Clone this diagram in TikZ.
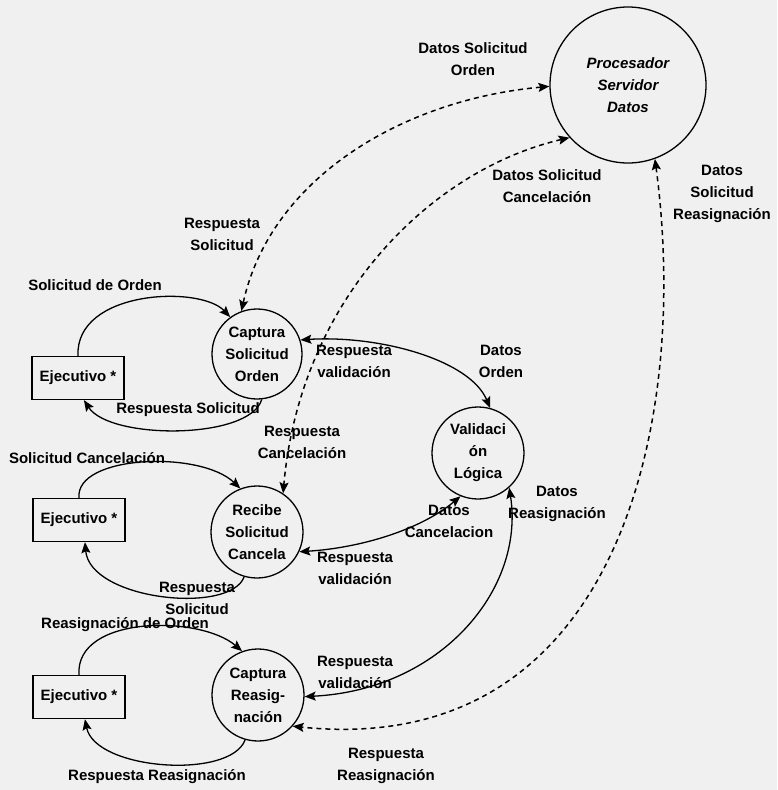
\documentclass[tikz,border=0pt]{standalone}
\usepackage{fontspec}
\setmainfont{Liberation Sans}
\usetikzlibrary{arrows.meta}
\begin{document}
\begin{tikzpicture}[x=1pt,y=-1pt,
  txt/.style={font=\fontsize{15}{22}\selectfont\bfseries, align=center, inner sep=0pt},
  bubble/.style={txt, draw, circle, line width=1.3pt, minimum size=#1},
  entity/.style={txt, draw, rectangle, line width=1.3pt, minimum width=92pt, minimum height=43pt},
  tip/.tip={Stealth[length=11pt,width=9pt,inset=2pt]},
  oneway/.style={line width=1.3pt, -tip},
  twoway/.style={line width=1.3pt, tip-tip},
  dashway/.style={line width=1.5pt, dash pattern=on 5pt off 4pt, tip-tip}
]
\fill[black!6] (0,0) rectangle (777,790);
\useasboundingbox (0,0) rectangle (777,790);

% processes and external entities
\node[bubble=156pt, font=\fontsize{15}{22}\selectfont\bfseries\itshape] (srv) at (628,85) {Procesador\\Servidor\\Datos};
\node[bubble=90pt] (cso) at (257,354) {Captura\\Solicitud\\Orden};
\node[bubble=92pt] (rsc) at (257,532) {Recibe\\Solicitud\\Cancela};
\node[bubble=92pt] (cr) at (258,695) {Captura\\Reasig-\\nación};
\node[bubble=92pt] (val) at (478,453) {Validaci\\ón\\Lógica};
\node[entity] (e1) at (78,378) {Ejecutivo *};
\node[entity] (e2) at (79,520) {Ejecutivo *};
\node[entity] (e3) at (79,697) {Ejecutivo *};

% data server links
\draw[dashway] (srv.181) .. controls (400,100) and (270,180) .. (cso.110);
\draw[dashway] (srv.222) .. controls (430,170) and (300,300) .. (rsc.56);
\draw[dashway] (srv.290) .. controls (690,420) and (620,760) .. (cr.318);

% validation links
\draw[twoway] (cso.18) .. controls (380,335) and (470,360) .. (val.75);
\draw[twoway] (rsc.335) .. controls (360,548) and (420,530) .. (val.248);
\draw[twoway] (cr.358) .. controls (440,690) and (525,590) .. (val.312);

% executive loops
\draw[oneway] (e1.north) .. controls (75,290) and (200,285) .. (cso.126);
\draw[oneway] (cso.276) .. controls (250,440) and (110,440) .. (e1.285);
\draw[oneway] (e2.north) .. controls (75,455) and (200,450) .. (rsc.111);
\draw[oneway] (rsc.254) .. controls (230,615) and (90,600) .. (e2.285);
\draw[oneway] (e3.north) .. controls (75,615) and (200,615) .. (cr.110);
\draw[oneway] (cr.254) .. controls (230,780) and (95,770) .. (e3.285);

% flow labels
\node[txt] (l1) at (473,59) {Datos Solicitud\\Orden};
\node[txt] (l2) at (547,186) {Datos Solicitud\\Cancelación};
\node[txt] (l3) at (722,194) {Datos\\Solicitud\\Reasignación};
\node[txt] (l4) at (222,234) {Respuesta\\Solicitud};
\node[txt] (l5) at (95,285) {Solicitud de Orden};
\node[txt] (l6) at (188,410) {Respuesta Solicitud};
\node[txt] (l7) at (354,361) {Respuesta\\validación};
\node[txt] (l8) at (501,361) {Datos\\Orden};
\node[txt] (l9) at (302,442) {Respuesta\\Cancelación};
\node[txt] (l10) at (87,458) {Solicitud Cancelación};
\node[txt] (l11) at (449,521) {Datos\\Cancelacion};
\node[txt] (l12) at (557,504) {Datos\\Reasignación};
\node[txt] (l13) at (355,568) {Respuesta\\validación};
\node[txt] (l14) at (197,598) {Respuesta\\Solicitud};
\node[txt] (l15) at (125,625) {Reasignación de Orden};
\node[txt] (l16) at (355,672) {Respuesta\\validación};
\node[txt] (l17) at (157,777) {Respuesta Reasignación};
\node[txt] (l18) at (386,766) {Respuesta\\Reasignación};
\end{tikzpicture}
\end{document}
